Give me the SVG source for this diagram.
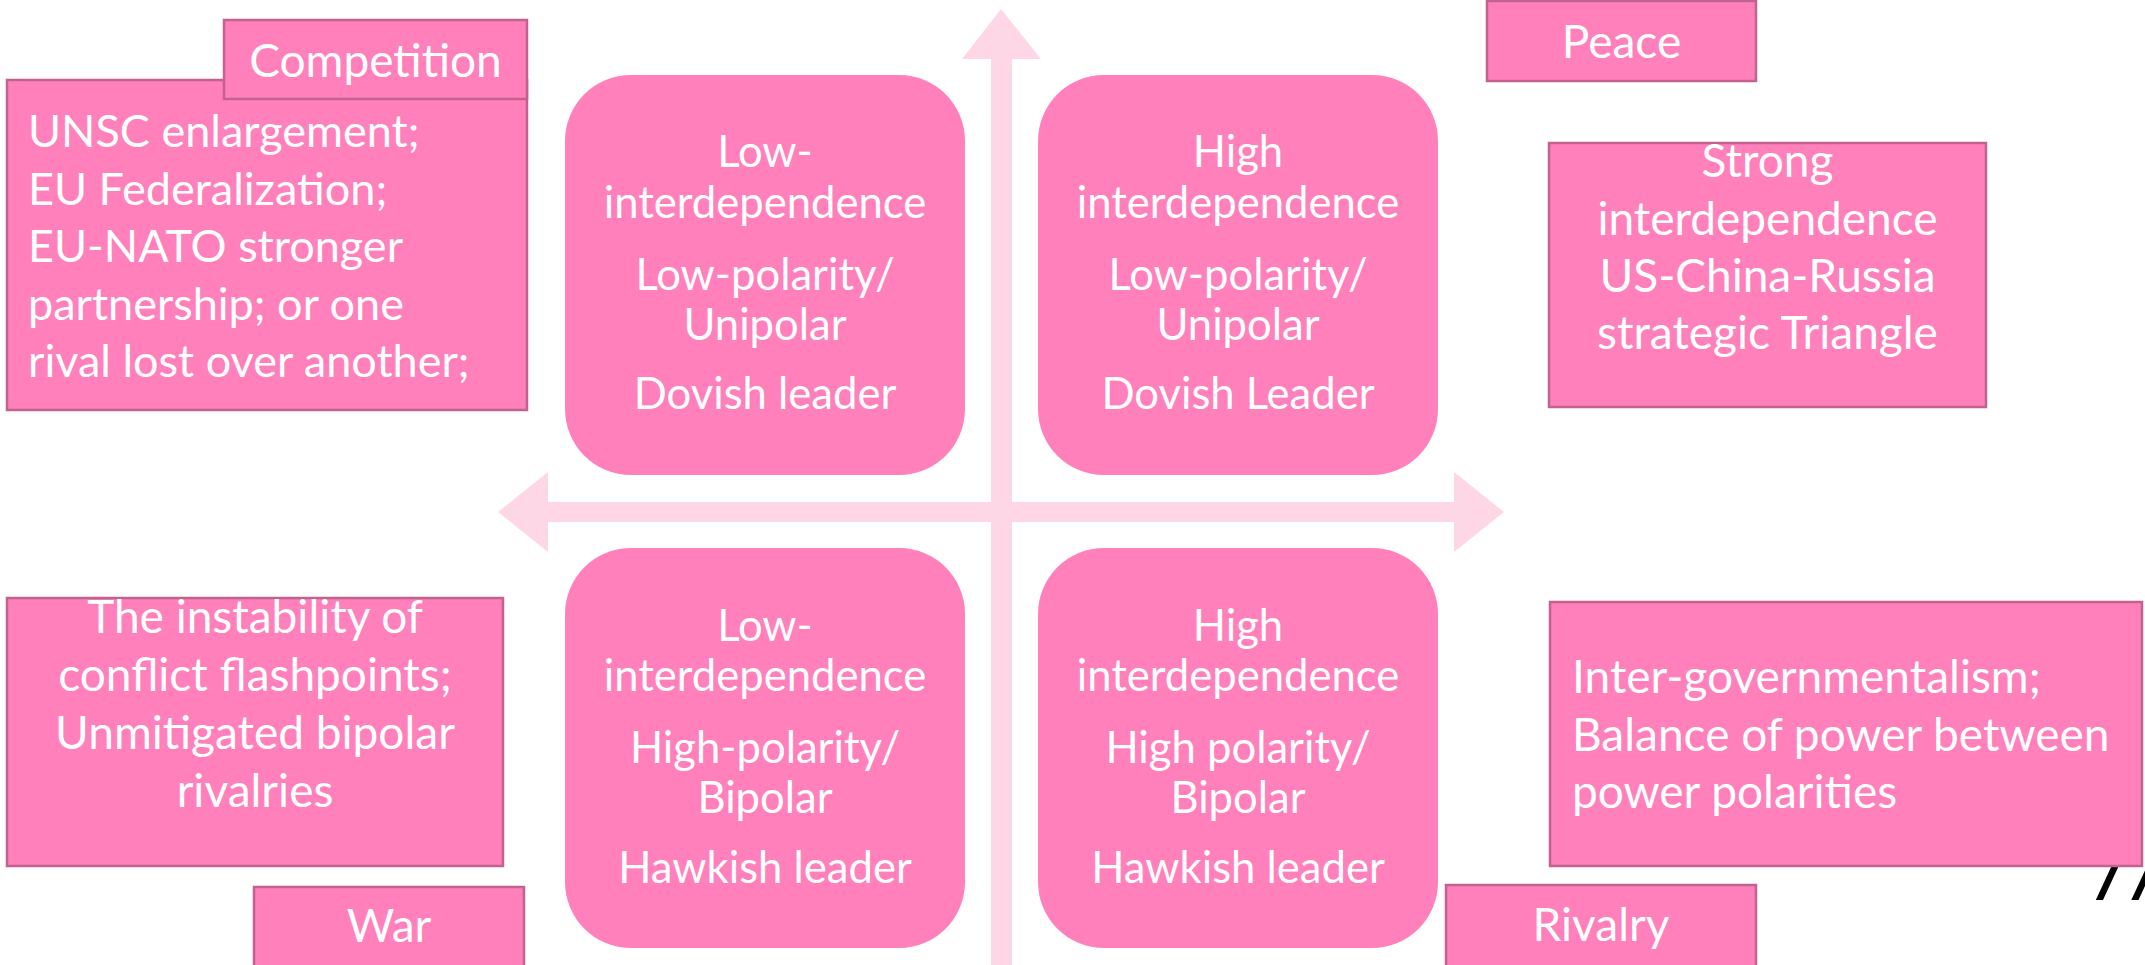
<svg xmlns="http://www.w3.org/2000/svg" width="2145" height="965" viewBox="0 0 2145 965">
<defs>
<style>
.box{fill:#FF80BA;stroke:#C2628F;stroke-width:2.5}
.rbox{fill:#FF80BA}
.axis{fill:#FDD7E5}
.t{font-family:Lato,"Noto Sans","Liberation Sans",sans-serif;fill:#FFFFFF}
.s{font-size:46px}
.b{font-size:45px}
.q{font-size:43.6px}
.c{text-anchor:middle}
.mark{font-family:"Liberation Sans",sans-serif;font-style:italic;font-size:92px;letter-spacing:10px;fill:#000000}
</style>
</defs>
<rect width="2145" height="965" fill="#FFFFFF"/>

<g id="connectors">
<polygon class="axis" points="1001,9 1041,59 1012,59 1012,965 991,965 991,59 962,59"/>
<polygon class="axis" points="498,512 548,472 548,502 1454,502 1454,472 1504,512 1454,552 1454,522 548,522 548,552"/>
</g>

<g id="q-top-left">
<rect class="rbox" x="565" y="75" width="400" height="400" rx="66" ry="66"/>
<text class="t q c" x="765" y="167">Low-</text>
<text class="t q c" x="765" y="218">interdependence</text>
<text class="t q c" x="765" y="290">Low-polarity/</text>
<text class="t q c" x="765" y="340">Unipolar</text>
<text class="t q c" x="765" y="409">Dovish leader</text>
</g>

<g id="q-top-right">
<rect class="rbox" x="1038" y="75" width="400" height="400" rx="66" ry="66"/>
<text class="t q c" x="1238" y="167">High</text>
<text class="t q c" x="1238" y="218">interdependence</text>
<text class="t q c" x="1238" y="290">Low-polarity/</text>
<text class="t q c" x="1238" y="340">Unipolar</text>
<text class="t q c" x="1238" y="409">Dovish Leader</text>
</g>

<g id="q-bottom-left">
<rect class="rbox" x="565" y="548" width="400" height="400" rx="66" ry="66"/>
<text class="t q c" x="765" y="641">Low-</text>
<text class="t q c" x="765" y="691">interdependence</text>
<text class="t q c" x="765" y="763">High-polarity/</text>
<text class="t q c" x="765" y="813">Bipolar</text>
<text class="t q c" x="765" y="883">Hawkish leader</text>
</g>

<g id="q-bottom-right">
<rect class="rbox" x="1038" y="548" width="400" height="400" rx="66" ry="66"/>
<text class="t q c" x="1238" y="641">High</text>
<text class="t q c" x="1238" y="691">interdependence</text>
<text class="t q c" x="1238" y="763">High polarity/</text>
<text class="t q c" x="1238" y="813">Bipolar</text>
<text class="t q c" x="1238" y="883">Hawkish leader</text>
</g>

<g id="competition-text">
<rect class="box" x="7" y="80" width="520" height="330"/>
<text class="t b" x="28" y="147">UNSC enlargement;</text>
<text class="t b" x="28" y="205">EU Federalization;</text>
<text class="t b" x="28" y="262">EU-NATO stronger</text>
<text class="t b" x="28" y="320">partnership; or one</text>
<text class="t b" x="28" y="377">rival lost over another;</text>
</g>

<g id="competition-label">
<rect class="box" x="224" y="20" width="303" height="79"/>
<text class="t s c" x="375.5" y="77">Competition</text>
</g>

<g id="peace-label">
<rect class="box" x="1487" y="1" width="269" height="80"/>
<text class="t s c" x="1621.5" y="58">Peace</text>
</g>

<g id="peace-text">
<rect class="box" x="1549" y="143" width="437" height="264"/>
<text class="t s c" x="1767.5" y="177">Strong</text>
<text class="t s c" x="1767.5" y="235">interdependence</text>
<text class="t s c" x="1767.5" y="292">US-China-Russia</text>
<text class="t s c" x="1767.5" y="349">strategic Triangle</text>
</g>

<g id="war-text">
<rect class="box" x="7" y="598" width="496" height="268"/>
<text class="t s c" x="255" y="633">The instability of</text>
<text class="t s c" x="255" y="691">conflict flashpoints;</text>
<text class="t s c" x="255" y="749">Unmitigated bipolar</text>
<text class="t s c" x="255" y="807">rivalries</text>
</g>

<g id="war-label">
<rect class="box" x="254" y="887" width="270" height="80"/>
<text class="t s c" x="389" y="942">War</text>
</g>

<g id="mark">
<text class="mark" x="2101" y="899">//</text>
</g>

<g id="rivalry-text">
<rect class="box" x="1550" y="602" width="592" height="264"/>
<text class="t s" x="1572" y="693">Inter-governmentalism;</text>
<text class="t s" x="1572" y="751">Balance of power between</text>
<text class="t s" x="1572" y="808">power polarities</text>
</g>

<g id="rivalry-label">
<rect class="box" x="1446" y="885" width="310" height="82"/>
<text class="t s c" x="1601" y="941">Rivalry</text>
</g>
</svg>
